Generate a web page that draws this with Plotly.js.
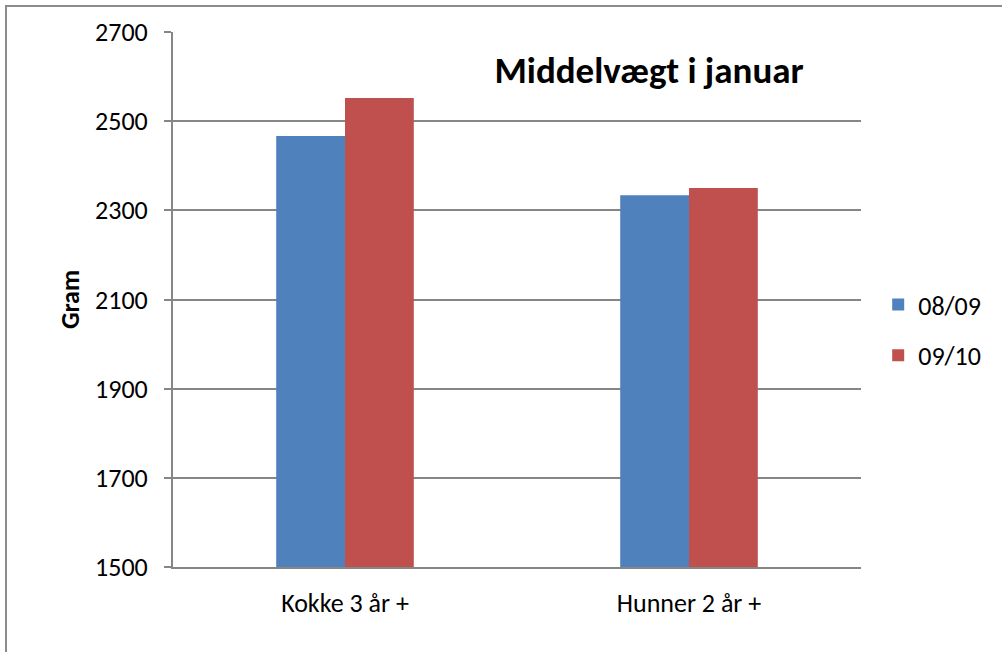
<!DOCTYPE html>
<html>
<head>
<meta charset="utf-8">
<script src="https://cdn.plot.ly/plotly-3.0.1.min.js"></script>
<style>
html,body{margin:0;padding:0;background:#fff;}
#wrap{position:relative;width:1002px;height:652px;overflow:hidden;}
#chart{width:1002px;height:652px;}
#frame{position:absolute;left:5px;top:5px;width:1100px;height:700px;border-left:2px solid #8c8c8c;border-top:2px solid #8c8c8c;pointer-events:none;}
</style>
</head>
<body>
<div id="wrap"><div id="chart"></div><div id="frame"></div></div>
<script>
const categories = ["Kokke 3 år +", "Hunner 2 år +"];
const series0809 = [2467, 2334];
const series0910 = [2552, 2350];
const seriesNames = ["08/09", "09/10"];
const yTicks = [1500, 1700, 1900, 2100, 2300, 2500, 2700];

const fontFam = "Carlito, 'Liberation Sans Narrow', 'Open Sans', sans-serif";

const traces = [
  {type:'bar', x:categories, y:series0809, name:seriesNames[0], marker:{color:'#4F81BD'}, legendgroup:'a'},
  {type:'bar', x:categories, y:series0910, name:seriesNames[1], marker:{color:'#C0504D'}, legendgroup:'b'}
];

const layout = {
  width:1002, height:652,
  margin:{l:173, r:141, t:32, b:85},
  paper_bgcolor:'#fff', plot_bgcolor:'#fff',
  barmode:'group', bargap:0.6, bargroupgap:0,
  title:{text:'<b>Middelvægt i januar</b>', font:{family:fontFam, size:37, color:'#000'},
         xref:'paper', x:0.692, xanchor:'center', yref:'container', y:0.893, yanchor:'middle'},
  xaxis:{showline:true, linecolor:'#868686', linewidth:2, ticks:'', showgrid:false, automargin:false,
         tickfont:{family:fontFam, size:26, color:'#000'}, ticklabelstandoff:12},
  yaxis:{range:[1500,2700], tickvals:yTicks, showline:true, linecolor:'#868686', linewidth:2, automargin:false,
         ticks:'outside', ticklen:7, tickcolor:'#868686', tickwidth:2,
         showgrid:true, gridcolor:'#868686', gridwidth:2, zeroline:false,
         tickfont:{family:fontFam, size:26, color:'#000'}, ticklabelstandoff:11,
         title:{text:'<b>Gram</b>', font:{family:fontFam, size:26, color:'#000'}, standoff:8}},
  legend:{x:1.025, xanchor:'left', y:0.443, yanchor:'middle', traceorder:'grouped', tracegroupgap:14,
          font:{family:fontFam, size:26, color:'#000'}, bgcolor:'rgba(0,0,0,0)'},
  showlegend:true
};

Plotly.newPlot('chart', traces, layout, {displayModeBar:false, staticPlot:true});
</script>
</body>
</html>
